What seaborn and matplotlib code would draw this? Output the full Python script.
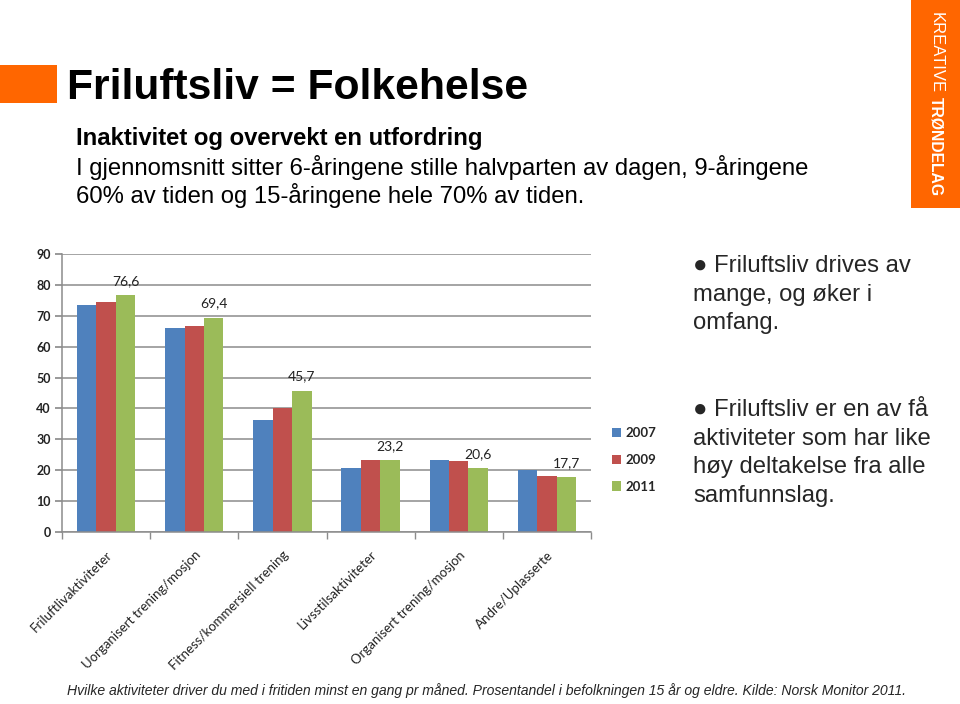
import matplotlib
matplotlib.use("Agg")
import matplotlib.pyplot as plt
import seaborn as sns
import pandas as pd
from matplotlib.patches import Rectangle, Patch

categories = ["Friluftlivaktiviteter", "Uorganisert trening/mosjon", "Fitness/kommersiell trening",
              "Livsstilsaktiviteter", "Organisert trening/mosjon", "Andre/Uplasserte"]
years = ["2007", "2009", "2011"]
v2007 = [73.6, 66.1, 36.4, 20.6, 23.2, 20.0]
v2009 = [74.4, 66.8, 40.2, 23.2, 23.0, 18.1]
v2011 = [76.6, 69.4, 45.7, 23.2, 20.6, 17.7]
labels2011 = ["76,6", "69,4", "45,7", "23,2", "20,6", "17,7"]
yticks = [0, 10, 20, 30, 40, 50, 60, 70, 80, 90]
colors = ["#4F81BD", "#C0504D", "#9BBB59"]

rows = []
for yr, vals in zip(years, [v2007, v2009, v2011]):
    for c, v in zip(categories, vals):
        rows.append({"cat": c, "year": yr, "val": v})
df = pd.DataFrame(rows)

sns.set_theme(style="white")
plt.rcParams["font.family"] = ["Liberation Sans", "DejaVu Sans"]

W, H = 960, 704
fig = plt.figure(figsize=(9.6, 7.04), dpi=100)
fig.patch.set_facecolor("white")

def fx(x): return x / W
def fy(y): return 1 - y / H

ax = fig.add_axes([fx(62), fy(532), fx(591) - fx(62), (532 - 254) / H])
sns.barplot(data=df, x="cat", y="val", hue="year", palette=colors, width=0.66,
            ax=ax, saturation=1, legend=False, edgecolor="none", linewidth=0)
ax.set_xlim(-0.5, 5.5)
ax.set_ylim(0, 90)
ax.set_yticks(yticks)
ax.set_yticklabels([str(t) for t in yticks], fontsize=9, fontweight="bold",
                   family=["Lato", "DejaVu Sans"], color="#222222")
ax.yaxis.grid(True, color="#8c8c8c", linewidth=1.1)
ax.set_axisbelow(True)
ax.set_xlabel("")
ax.set_ylabel("")
for s in ["top", "right"]:
    ax.spines[s].set_visible(False)
for s in ["left", "bottom"]:
    ax.spines[s].set_color("#8c8c8c")
    ax.spines[s].set_linewidth(1.1)
ax.tick_params(axis="y", left=True, length=5, color="#8c8c8c", pad=3)
ax.set_xticks(range(len(categories)))
ax.set_xticklabels(categories, rotation=45, ha="right", rotation_mode="anchor",
                   fontsize=9.5, family=["Lato", "DejaVu Sans"], color="#222222")
ax.tick_params(axis="x", which="major", length=0, pad=12)
ax.set_xticks([i - 0.5 for i in range(len(categories) + 1)], minor=True)
ax.tick_params(axis="x", which="minor", bottom=True, length=5, color="#8c8c8c")

# data labels on 2011 bars
green = ax.containers[2]
for bar, lab in zip(green, labels2011):
    ax.annotate(lab, (bar.get_x() + bar.get_width() / 2, bar.get_height()),
                xytext=(0, 6), textcoords="offset points", ha="center", va="bottom",
                fontsize=10, family=["Lato", "DejaVu Sans"], color="#222222")

handles = [Patch(facecolor=c, edgecolor="none") for c in colors]
fig.legend(handles, years, loc="center left", bbox_to_anchor=(fx(600), fy(460)),
           frameon=False, handlelength=0.7, handleheight=0.7, handletextpad=0.3,
           labelspacing=1.1, prop={"family": ["Lato", "DejaVu Sans"], "size": 9.5, "weight": "bold"})

# decorations
fig.patches.append(Rectangle((0, fy(103)), fx(57), (103 - 65) / H, transform=fig.transFigure,
                             facecolor="#FF6600", edgecolor="none"))
fig.patches.append(Rectangle((fx(911), fy(208)), fx(49), 208 / H, transform=fig.transFigure,
                             facecolor="#FF6600", edgecolor="none"))
fig.text(fx(936), fy(12), "KREATIVE", rotation=-90, ha="center", va="top",
         color="white", fontsize=12, fontweight="light")
fig.text(fx(936), fy(97), "TRØNDELAG", rotation=-90, ha="center", va="top",
         color="white", fontsize=11.3, fontweight="bold")

fig.text(fx(67), fy(88), "Friluftsliv = Folkehelse", fontsize=30.7, fontweight="bold",
         ha="left", va="center", color="black")
fig.text(fx(76), fy(138), "Inaktivitet og overvekt en utfordring", fontsize=17.2,
         fontweight="bold", ha="left", va="center", color="black")
fig.text(fx(76), fy(167), "I gjennomsnitt sitter 6-åringene stille halvparten av dagen, 9-åringene",
         fontsize=17.2, ha="left", va="center", color="black")
fig.text(fx(76), fy(196), "60% av tiden og 15-åringene hele 70% av tiden.",
         fontsize=17.2, ha="left", va="center", color="black")

right1 = ["● Friluftsliv drives av", "mange, og øker i", "omfang."]
right2 = ["● Friluftsliv er en av få", "aktiviteter som har like", "høy deltakelse fra alle", "samfunnslag."]
for i, t in enumerate(right1):
    fig.text(fx(693), fy(266 + 28.5 * i), t, fontsize=17.2, ha="left", va="center",
             family=["Liberation Sans", "DejaVu Sans"])
for i, t in enumerate(right2):
    fig.text(fx(693), fy(410 + 28.7 * i), t, fontsize=17.2, ha="left", va="center",
             family=["Liberation Sans", "DejaVu Sans"])

fig.text(fx(67), fy(691), "Hvilke aktiviteter driver du med i fritiden minst en gang pr måned. "
         "Prosentandel i befolkningen 15 år og eldre. Kilde: Norsk Monitor 2011.",
         fontsize=10.1, style="italic", ha="left", va="center")

fig.savefig("out.png", dpi=100, facecolor="white")
